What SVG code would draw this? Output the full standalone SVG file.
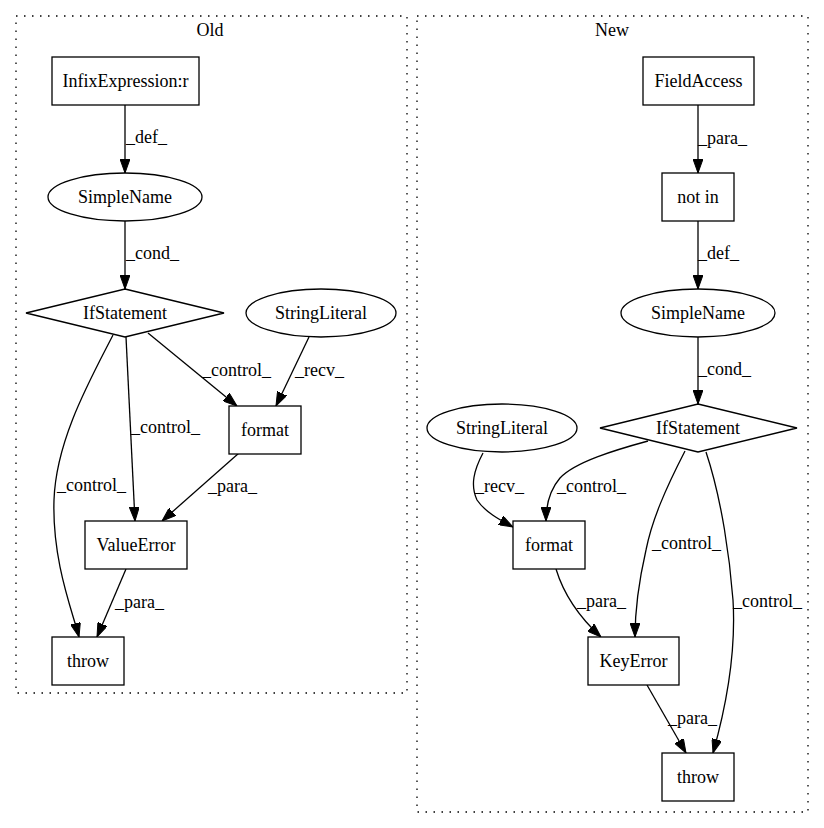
<svg xmlns="http://www.w3.org/2000/svg" width="824" height="828" viewBox="0 0 824 828">
<style>
text{font-family:"Liberation Serif","Times New Roman",serif;font-size:18px;fill:#000}
.c{text-anchor:middle}
.n{fill:#fff;stroke:#000;stroke-width:1.3}
.cl{fill:none;stroke:#000;stroke-width:1.3;stroke-dasharray:1.5,6.5}
.e{fill:none;stroke:#000;stroke-width:1.3;marker-end:url(#ah)}
</style>
<defs>
<marker id="ah" viewBox="0 0 14 10" refX="14" refY="5" markerWidth="14" markerHeight="10" markerUnits="userSpaceOnUse" orient="auto">
<path d="M0,0 L14,5 L0,10 z" fill="#000" stroke="#000"/>
</marker>
</defs>
<rect width="824" height="828" fill="#fff"/>
<g id="cluster_old">
<rect class="cl" x="16" y="16" width="391" height="677"/>
<text class="c" x="210" y="36">Old</text>
</g>
<g id="cluster_new">
<rect class="cl" x="417" y="16" width="391" height="796"/>
<text class="c" x="612" y="36">New</text>
</g>
<g id="edges">
<path class="e" d="M125,105 L125,173"/>
<path class="e" d="M125,221 L125,289"/>
<path class="e" d="M148,333 L237,406"/>
<path class="e" d="M309,337 L276,406"/>
<path class="e" d="M126,337 L135,521"/>
<path class="e" d="M239,453 L162,521"/>
<path class="e" d="M113,335 C90,380 56,440 54,500 C52,560 72,610 79,637"/>
<path class="e" d="M126,569 L97,637"/>
<path class="e" d="M698,105 L698,173"/>
<path class="e" d="M698,221 L698,289"/>
<path class="e" d="M698,337 L698,404"/>
<path class="e" d="M483,453 C474,470 470,485 477,500 C485,512 500,520 513,527"/>
<path class="e" d="M648,441 C615,450 575,462 560,478 C548,492 546,508 546,521"/>
<path class="e" d="M685,451 C665,490 652,520 646,550 C638,585 635,615 635,637"/>
<path class="e" d="M706,452 C722,500 730,560 733,600 C736,650 728,700 713,753"/>
<path class="e" d="M556,569 C563,592 578,616 601,637"/>
<path class="e" d="M647,685 L686,753"/>
<text x="126" y="143">_def_</text>
<text x="126" y="259">_cond_</text>
<text x="202" y="376">_control_</text>
<text x="295" y="376">_recv_</text>
<text x="131" y="433">_control_</text>
<text x="208" y="492">_para_</text>
<text x="57" y="491">_control_</text>
<text x="115" y="608">_para_</text>
<text x="698" y="144">_para_</text>
<text x="698" y="259">_def_</text>
<text x="698" y="375">_cond_</text>
<text x="475" y="492">_recv_</text>
<text x="557" y="492">_control_</text>
<text x="652" y="549">_control_</text>
<text x="733" y="607">_control_</text>
<text x="577" y="607">_para_</text>
<text x="668" y="724">_para_</text>
</g>
<g id="old_infix"><rect class="n" x="52" y="57" width="147" height="48"/><text class="c" x="125.5" y="87">InfixExpression:r</text></g>
<g id="old_simplename"><ellipse class="n" cx="125" cy="197" rx="77" ry="24"/><text class="c" x="125" y="203">SimpleName</text></g>
<g id="old_if"><polygon class="n" points="125,289 224,313 125,337 26,313"/><text class="c" x="125" y="319">IfStatement</text></g>
<g id="old_stringliteral"><ellipse class="n" cx="321" cy="313" rx="75" ry="24"/><text class="c" x="321" y="319">StringLiteral</text></g>
<g id="old_format"><rect class="n" x="229" y="406" width="72" height="48"/><text class="c" x="265" y="436">format</text></g>
<g id="old_valueerror"><rect class="n" x="85" y="521" width="102" height="48"/><text class="c" x="136" y="551">ValueError</text></g>
<g id="old_throw"><rect class="n" x="52" y="637" width="72" height="48"/><text class="c" x="88" y="667">throw</text></g>
<g id="new_fieldaccess"><rect class="n" x="643" y="57" width="111" height="48"/><text class="c" x="698.5" y="87">FieldAccess</text></g>
<g id="new_notin"><rect class="n" x="662" y="173" width="72" height="48"/><text class="c" x="698" y="203">not in</text></g>
<g id="new_simplename"><ellipse class="n" cx="698" cy="313" rx="77" ry="24"/><text class="c" x="698" y="319">SimpleName</text></g>
<g id="new_if"><polygon class="n" points="698,404 797,428 698,452 600,428"/><text class="c" x="698" y="434">IfStatement</text></g>
<g id="new_stringliteral"><ellipse class="n" cx="502" cy="428" rx="75" ry="24"/><text class="c" x="502" y="434">StringLiteral</text></g>
<g id="new_format"><rect class="n" x="513" y="521" width="72" height="48"/><text class="c" x="549" y="551">format</text></g>
<g id="new_keyerror"><rect class="n" x="588" y="637" width="91" height="48"/><text class="c" x="633.5" y="667">KeyError</text></g>
<g id="new_throw"><rect class="n" x="662" y="753" width="72" height="48"/><text class="c" x="698" y="783">throw</text></g>
</svg>
